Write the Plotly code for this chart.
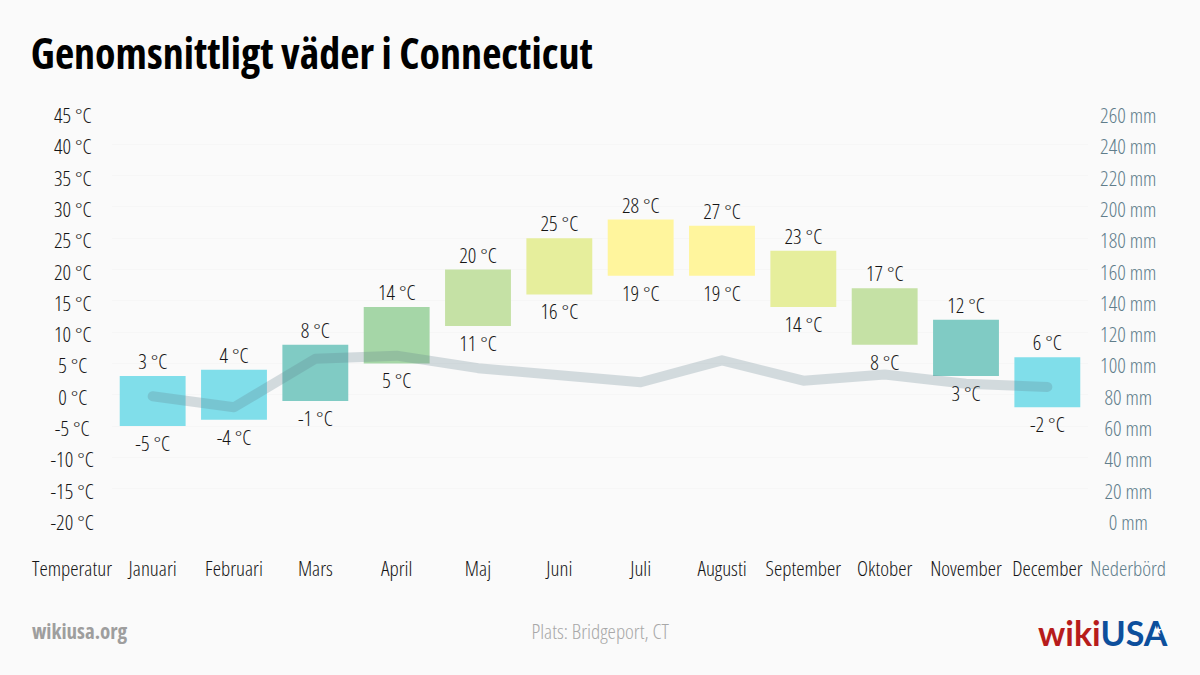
# average weather in Connecticut: temperature range bars plus precipitation line
import plotly.graph_objects as go

months = ["Januari", "Februari", "Mars", "April", "Maj", "Juni", "Juli", "Augusti",
          "September", "Oktober", "November", "December"]
temp_high = [3, 4, 8, 14, 20, 25, 28, 27, 23, 17, 12, 6]
temp_low = [-5, -4, -1, 5, 11, 16, 19, 19, 14, 8, 3, -2]
rain = [79, 72, 103, 105, 97, 92, 88, 102, 89, 93, 87, 85]
bar_colors = ["#80DEEA", "#80DEEA", "#80CBC4", "#A5D6A7", "#C5E1A5", "#E6EE9C",
              "#FFF59D", "#FFF59D", "#E6EE9C", "#C5E1A5", "#80CBC4", "#80DEEA"]
temp_ticks = list(range(-20, 50, 5))
rain_ticks = list(range(0, 280, 20))

FONT = "Open Sans"
SIZE = 21
DARK = "#151515"
SLATE = "#607D8B"

light = dict(family=FONT, size=SIZE, weight=300)

fig = go.Figure()

# floating bars, low to high
fig.add_bar(x=months, y=[h - l for h, l in zip(temp_high, temp_low)], base=temp_low,
            marker=dict(color=bar_colors, line=dict(width=0)), width=0.81)

fig.add_scatter(x=months, y=rain, yaxis="y2", mode="lines",
                line=dict(color="#607D8B", width=10), opacity=0.25)

# value labels above and below the bars, the hidden markers only push the text away
fig.add_scatter(x=months, y=temp_high, mode="markers+text", textposition="top center",
                marker=dict(size=1, opacity=0),
                text=[f"{v} °C" for v in temp_high],
                textfont=dict(color=DARK, **light))
fig.add_scatter(x=months, y=temp_low, mode="markers+text", textposition="bottom center",
                marker=dict(size=13, opacity=0),
                text=[f"{v} °C" for v in temp_low],
                textfont=dict(color=DARK, **light))

def px(x, y):
    return (x - 112) / 976, (520 - y) / 407

annotations = []

# everything is centre anchored, plotly measures the text before the condensed css applies
for t in temp_ticks:
    annotations.append(dict(x=px(72, 0)[0], xref="paper", y=t, yref="y", text=f"{t} °C",
                            xanchor="center", yshift=-2, showarrow=False,
                            font=dict(color=DARK, **light)))
for r in rain_ticks:
    annotations.append(dict(x=px(1128, 0)[0], xref="paper", y=r, yref="y2", text=f"{r} mm",
                            xanchor="center", yshift=-2, showarrow=False,
                            font=dict(color=SLATE, **light)))

def note(x, y, text, size, color, family=FONT, weight=300):
    annotations.append(dict(x=x, y=y, xref="paper", yref="paper", xanchor="center",
                            yanchor="middle", showarrow=False, text=text,
                            font=dict(family=family, size=size, color=color, weight=weight)))

note(*px(72, 568), "Temperatur", SIZE, DARK)
note(*px(1128, 568), "Nederbörd", SIZE, SLATE)
note(*px(312, 52.5), "<b>Genomsnittligt väder i Connecticut</b>", 42, "#000000", weight=700)
note(*px(79, 631), "<b>wikiusa.org</b>", 21, "#9E9E9E", weight=700)
note(*px(600, 631), "Plats: Bridgeport, CT", SIZE, "#A8A8A8")

# logo, with the small star inside the A
note(*px(1103, 632), '<b><span style="color:#B71C1C">wiki</span>'
                     '<span style="color:#0D4F9C">USA</span></b>', 34, "#0D4F9C", "Lato", 700)
note(*px(1157.5, 630.5), "★", 11, "#FFFFFF", "DejaVu Sans", 400)

fig.update_layout(
    width=1200, height=675,
    margin=dict(l=112, r=112, t=113, b=155),
    paper_bgcolor="#FAFAFA", plot_bgcolor="#FAFAFA",
    showlegend=False,
    annotations=annotations,
    xaxis=dict(type="category", categoryorder="array", categoryarray=months,
               range=[-0.5, 11.5], showgrid=False, zeroline=False, showline=False,
               ticks="outside", ticklen=30, tickcolor="rgba(0,0,0,0)", tickangle=0,
               tickfont=dict(color=DARK, **light)),
    yaxis=dict(range=[-20, 45], tickvals=temp_ticks, showticklabels=False, zeroline=False,
               gridcolor="#F6F6F6", gridwidth=1),
    yaxis2=dict(range=[0, 260], tickvals=rain_ticks, showticklabels=False, zeroline=False,
                overlaying="y", side="right", showgrid=False),
)

# no page margin, condensed text, round line ends
page_css = """
document.body.style.margin = '0';
document.body.style.background = '#FAFAFA';
var css = document.createElement('style');
css.textContent = 'svg text { font-stretch: 75%; } path.js-line { stroke-linecap: round; stroke-linejoin: round; }';
document.head.appendChild(css);
"""
fig.write_html("out.html", post_script=page_css, config={"displayModeBar": False})
